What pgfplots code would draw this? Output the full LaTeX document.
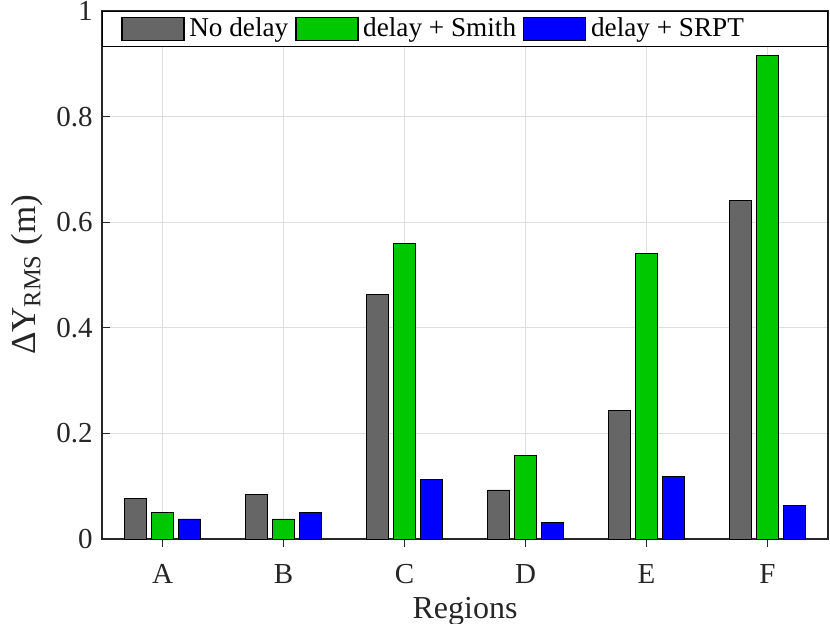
\documentclass[border=0pt]{standalone}
\usepackage{fontspec}
\setmainfont{Liberation Serif}
\usepackage{pgfplots}
\pgfplotsset{compat=1.18}
\definecolor{bgray}{RGB}{102,102,102}
\definecolor{bgreen}{RGB}{0,200,0}
\definecolor{bblue}{RGB}{0,0,255}
\definecolor{axc}{RGB}{38,38,38}
\definecolor{gridc}{RGB}{223,223,223}
\begin{document}
\begin{tikzpicture}
\begin{axis}[
  name=ax,
  scale only axis,
  width=363pt, height=264pt,
  xmin=-0.5, xmax=5.5,
  ymin=0, ymax=1,
  xtick={0,1,2,3,4,5},
  xticklabels={A,B,C,D,E,F},
  ytick={0,0.2,0.4,0.6,0.8,1},
  yticklabels={0,0.2,0.4,0.6,0.8,1},
  tick align=inside,
  major tick length=4pt,
  xtick pos=bottom,
  ytick pos=left,
  grid=major,
  major grid style={draw=gridc, line width=0.5pt},
  axis line style={draw=axc, line width=0.6pt},
  tick style={draw=axc, line width=0.6pt},
  ticklabel style={font=\fontsize{14.5}{17}\selectfont, text=axc},
  xticklabel style={yshift=-5pt},
  yticklabel style={xshift=-1.2pt},
  /pgf/number format/assume math mode=true,
  xlabel={Regions},
  ylabel={ΔY\textsubscript{RMS} (m)},
  xlabel style={font=\fontsize{16}{18}\selectfont, text=axc},
  ylabel style={font=\fontsize{17.5}{20}\selectfont, text=axc},
  ybar, bar width=11pt,
  legend columns=3,
  legend style={at={(0,1)}, anchor=north west, draw=black, line width=0.5pt,
    font=\fontsize{13.6}{16}\selectfont, inner xsep=9.5pt, inner ysep=2.2pt,
    nodes={inner sep=1pt},
    /tikz/every odd column/.append style={column sep=1.3pt},
    /tikz/every even column/.append style={column sep=2.6pt}},
  legend image code/.code={\draw[#1, line width=0.6pt] (0pt,-5.75pt) rectangle (31pt,5.75pt);},
  legend cell align=left,
]
\addplot[fill=bgray, draw=black, bar shift=-13.5pt] coordinates {(0,0.076) (1,0.085) (2,0.464) (3,0.093) (4,0.244) (5,0.642)};
\addplot[fill=bgreen, draw=black, bar shift=0pt] coordinates {(0,0.051) (1,0.038) (2,0.559) (3,0.159) (4,0.540) (5,0.915)};
\addplot[fill=bblue, draw=black, bar shift=13.5pt] coordinates {(0,0.038) (1,0.051) (2,0.112) (3,0.032) (4,0.119) (5,0.063)};
\legend{No delay, delay + Smith, delay + SRPT\hspace*{31.5pt}}
\end{axis}
\pgfresetboundingbox
\path ([xshift=-51pt,yshift=-42pt]ax.south west) rectangle ([xshift=1pt,yshift=5.5pt]ax.north east);
\end{tikzpicture}
\end{document}
